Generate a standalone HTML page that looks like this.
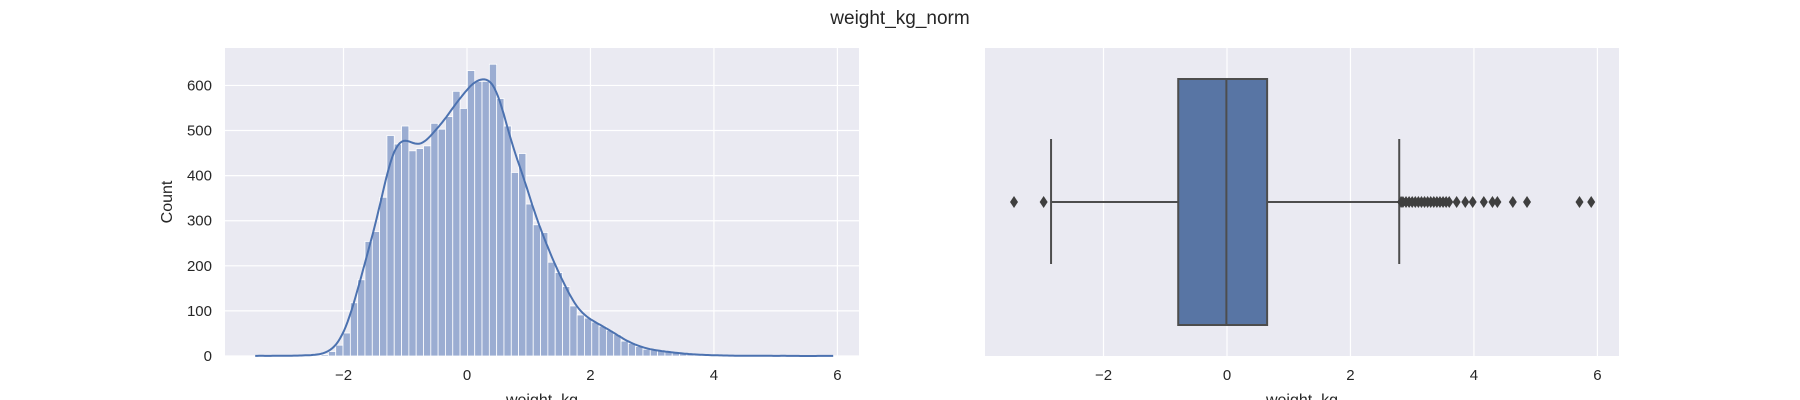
<!DOCTYPE html>
<html><head><meta charset="utf-8"><style>
body{margin:0;background:#fff;}
svg{display:block;font-family:"Liberation Sans","DejaVu Sans",sans-serif;}
</style></head><body>
<svg id="fig" width="1800" height="400" viewBox="0 0 1800 400">
<text x="900" y="24" text-anchor="middle" font-size="19" fill="#262626">weight_kg_norm</text>
<g id="left"></g>
<g id="right"></g>
</svg>
<script>
const binStart = -3.43;
const binWidth = 0.1185;
const counts = [1,0,0,1,0,1,1,2,2,3,10,24,51,118,169,254,276,352,489,470,510,455,460,466,516,503,531,587,549,633,609,609,647,571,510,407,449,337,291,274,208,185,154,111,91,84,75,66,57,48,33,28,21,15,13,11,9,7,5,4,3,2,2,1,1,1,0,1,0,1,0,0,1,0,0,0,0,0,1];
const xTicks = [-2,0,2,4,6];
const yTicks = [0,100,200,300,400,500,600];
const boxStats = {q1:-0.79, median:-0.01, q3:0.65, whiskLo:-2.85, whiskHi:2.79};
const outliers = [-3.45,-2.97,2.82,2.85,2.9,2.95,3.0,3.05,3.1,3.15,3.2,3.25,3.3,3.35,3.4,3.45,3.5,3.55,3.6,3.72,3.86,3.98,4.16,4.3,4.38,4.63,4.86,5.71,5.9];

const NS="http://www.w3.org/2000/svg";
function mk(parent,tag,attrs){const e=document.createElementNS(NS,tag);for(const k in attrs)e.setAttribute(k,attrs[k]);parent.appendChild(e);return e;}
const xMin=-3.92,xMax=6.35;
const axTop=48,axBot=356;
const L={x0:225,x1:859};
const lx=v=>L.x0+(v-xMin)/(xMax-xMin)*(L.x1-L.x0);
const yMax=683;
const ly=v=>axBot-v/yMax*(axBot-axTop);
const lg=document.getElementById('left');
let bg=mk(lg,'rect',{x:L.x0,y:axTop,width:L.x1-L.x0,height:axBot-axTop,fill:'#eaeaf2'});


xTicks.forEach(t=>{
  let g=mk(lg,'line',{x1:lx(t),x2:lx(t),y1:axTop,y2:axBot,stroke:'#fff','stroke-width':1.2});
  
  
  let tx=mk(lg,'text',{x:lx(t),y:380,'text-anchor':'middle','font-size':15,fill:'#262626'});
  tx.textContent=(t<0?'\u2212'+(-t):t);
  
  
});
yTicks.forEach(t=>{
  let g=mk(lg,'line',{x1:L.x0,x2:L.x1,y1:ly(t),y2:ly(t),stroke:'#fff','stroke-width':1.2});
  
  
  let tx=mk(lg,'text',{x:L.x0-13,y:ly(t)+5,'text-anchor':'end','font-size':15,fill:'#262626'});
  tx.textContent=t;
  
  
});
counts.forEach((c,i)=>{
  const a=binStart+i*binWidth,b=a+binWidth;
  let r=mk(lg,'rect',{x:lx(a),y:ly(c),width:lx(b)-lx(a),height:ly(0)-ly(c),fill:'#9badd2',stroke:'#fff','stroke-width':0.8});
  
  
});
(function(){
  const h=0.15,lo=binStart,hi=binStart+counts.length*binWidth;
  let pts=[];
  for(let k=0;k<=300;k++){
    const x=lo+(hi-lo)*k/300;let s=0;
    counts.forEach((c,i)=>{const m=binStart+(i+0.5)*binWidth;const z=(x-m)/h;s+=c*Math.exp(-0.5*z*z);});
    s=s*binWidth/(h*Math.sqrt(2*Math.PI));
    pts.push(lx(x).toFixed(1)+','+ly(s).toFixed(1));
  }
  let p=mk(lg,'polyline',{points:pts.join(' '),fill:'none',stroke:'#4c72b0','stroke-width':2});
  
  
})();
let yl=mk(lg,'text',{x:0,y:0,transform:'translate(172,202) rotate(-90)','text-anchor':'middle','font-size':16,fill:'#262626'});
yl.textContent='Count';


let xl=mk(lg,'text',{x:(L.x0+L.x1)/2,y:405,'text-anchor':'middle','font-size':16,fill:'#262626'});
xl.textContent='weight_kg';



const R={x0:985,x1:1619};
const rx=v=>R.x0+(v-xMin)/(xMax-xMin)*(R.x1-R.x0);
const rg=document.getElementById('right');
bg=mk(rg,'rect',{x:R.x0,y:axTop,width:R.x1-R.x0,height:axBot-axTop,fill:'#eaeaf2'});


xTicks.forEach(t=>{
  let g=mk(rg,'line',{x1:rx(t),x2:rx(t),y1:axTop,y2:axBot,stroke:'#fff','stroke-width':1.2});
  
  
  let tx=mk(rg,'text',{x:rx(t),y:380,'text-anchor':'middle','font-size':15,fill:'#262626'});
  tx.textContent=(t<0?'\u2212'+(-t):t);
  
  
});
const cy=202,lc='#4d4d4d';
let w=mk(rg,'line',{x1:rx(boxStats.whiskLo),x2:rx(boxStats.q1),y1:cy,y2:cy,stroke:lc,'stroke-width':2});


w=mk(rg,'line',{x1:rx(boxStats.q3),x2:rx(boxStats.whiskHi),y1:cy,y2:cy,stroke:lc,'stroke-width':2});


w=mk(rg,'line',{x1:rx(boxStats.whiskLo),x2:rx(boxStats.whiskLo),y1:139,y2:264,stroke:lc,'stroke-width':2});


w=mk(rg,'line',{x1:rx(boxStats.whiskHi),x2:rx(boxStats.whiskHi),y1:139,y2:264,stroke:lc,'stroke-width':2});


let bx=mk(rg,'rect',{x:rx(boxStats.q1),y:79,width:rx(boxStats.q3)-rx(boxStats.q1),height:246,fill:'#5875a4',stroke:lc,'stroke-width':2});


let md=mk(rg,'line',{x1:rx(boxStats.median),x2:rx(boxStats.median),y1:79,y2:325,stroke:lc,'stroke-width':2});


outliers.forEach(v=>{
  const x=rx(v);
  let d=mk(rg,'polygon',{points:`${x},${cy-6} ${x+4},${cy} ${x},${cy+6} ${x-4},${cy}`,fill:'#3f3f3f'});
  
  
});
xl=mk(rg,'text',{x:(R.x0+R.x1)/2,y:405,'text-anchor':'middle','font-size':16,fill:'#262626'});
xl.textContent='weight_kg';


</script>
</body></html>
